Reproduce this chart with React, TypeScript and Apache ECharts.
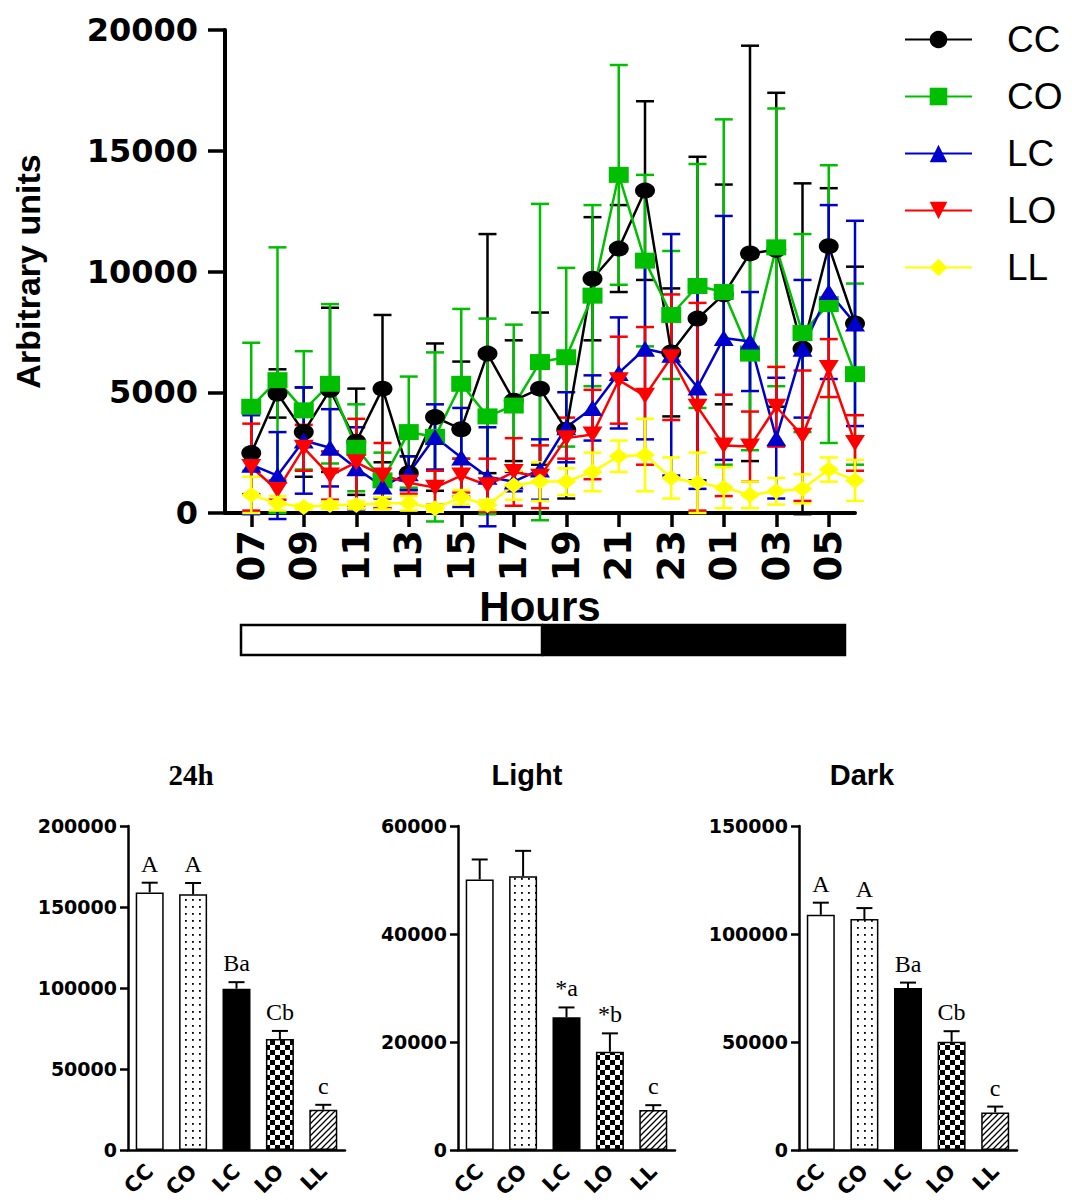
import React, { useEffect, useRef } from "react";
import * as echarts from "echarts";

// ---------- Top chart data ----------
const hours = [7, 8, 9, 10, 11, 12, 13, 14, 15, 16, 17, 18, 19, 20, 21, 22, 23, 24, 25, 26, 27, 28, 29, 30];
const hourTicks = [7, 9, 11, 13, 15, 17, 19, 21, 23, 25, 27, 29];

const ccMean = [2480, 4950, 3350, 5100, 2950, 5150, 1650, 3970, 3470, 6600, 4650, 5150, 3450, 9700, 10950, 13350, 6650, 8050, 9050, 10750, 10900, 6800, 11050, 7850];
const ccErr = [1700, 1000, 1850, 3400, 2200, 3050, 700, 3050, 2800, 4950, 2500, 3150, 2850, 2550, 1800, 3700, 2650, 6700, 4550, 8600, 6500, 6850, 2400, 2350];

const coMean = [4400, 5500, 4250, 5350, 2700, 1350, 3350, 3150, 5350, 4000, 4450, 6250, 6450, 9000, 14000, 10450, 8200, 9400, 9150, 6600, 11000, 7450, 8650, 5750];
const coErr = [2650, 5500, 2450, 3300, 1800, 1150, 2300, 3500, 3100, 4050, 3350, 6550, 3700, 3750, 4550, 3550, 2650, 5050, 7150, 4000, 5750, 4100, 5750, 3750];

const lcMean = [2000, 1550, 3000, 2700, 1850, 1100, 1650, 3150, 2300, 1500, 1300, 1800, 3550, 4350, 5800, 6800, 6550, 5200, 7250, 7100, 3100, 6800, 9150, 7850];
const lcErr = [2050, 1800, 2200, 1600, 1700, 500, 700, 1350, 2050, 2050, 400, 1250, 1450, 1350, 2300, 3750, 5000, 4200, 5050, 2050, 2500, 2850, 3600, 4250];

const loMean = [1900, 950, 2700, 1550, 2100, 1550, 1250, 1050, 1550, 1150, 1700, 1500, 3100, 3250, 5500, 4850, 6450, 4400, 2800, 2750, 4400, 3200, 6000, 2900];
const loErr = [1800, 400, 950, 1000, 1800, 1350, 450, 700, 700, 1100, 1400, 1300, 850, 1850, 1800, 2850, 2600, 4300, 2100, 1450, 1650, 2700, 1200, 1150];

const llMean = [750, 400, 250, 330, 330, 400, 400, 200, 650, 330, 1150, 1300, 1300, 1700, 2350, 2400, 1450, 1250, 1050, 750, 900, 1000, 1800, 1350];
const llErr = [750, 300, 100, 150, 150, 250, 300, 150, 300, 200, 600, 800, 550, 800, 650, 1500, 850, 1250, 850, 550, 550, 600, 500, 850];

// ---------- Bar charts data ----------
const groups = ["CC", "CO", "LC", "LO", "LL"];
const total24 = [159000, 157800, 99600, 68500, 24900];
const total24Err = [6000, 7000, 4000, 5000, 3000];
const total24Letters = ["A", "A", "Ba", "Cb", "c"];
const lightVals = [50100, 50700, 24600, 18200, 7400];
const lightErr = [3700, 4700, 1800, 3400, 900];
const lightLetters = ["", "", "*a", "*b", "c"];
const darkVals = [108900, 106900, 75000, 50100, 17400];
const darkErr = [5600, 5100, 2500, 4900, 2700];
const darkLetters = ["A", "A", "Ba", "Cb", "c"];

const COLORS = { CC: "#000000", CO: "#00BF00", LC: "#0000CC", LO: "#FF0000", LL: "#FFFF00" };

function makePattern(kind: string): any {
  const c = document.createElement("canvas");
  const ctx = c.getContext("2d") as CanvasRenderingContext2D;
  if (kind === "dots") {
    c.width = 7; c.height = 7;
    ctx.fillStyle = "#fff"; ctx.fillRect(0, 0, 7, 7);
    ctx.fillStyle = "#000";
    ctx.fillRect(3, 3, 1.8, 1.8);
  } else if (kind === "checker") {
    c.width = 10; c.height = 10;
    ctx.fillStyle = "#fff"; ctx.fillRect(0, 0, 10, 10);
    ctx.fillStyle = "#000";
    ctx.fillRect(0, 0, 5, 5); ctx.fillRect(5, 5, 5, 5);
  } else if (kind === "hatch") {
    c.width = 6; c.height = 6;
    ctx.fillStyle = "#fff"; ctx.fillRect(0, 0, 6, 6);
    ctx.strokeStyle = "#000"; ctx.lineWidth = 1.3;
    ctx.beginPath();
    ctx.moveTo(-1, 7); ctx.lineTo(7, -1);
    ctx.moveTo(-4, 4); ctx.lineTo(4, -4);
    ctx.moveTo(2, 10); ctx.lineTo(10, 2);
    ctx.stroke();
  }
  return { image: c, repeat: "repeat" };
}

const plain = (v: number) => String(v);

export default function App() {
  const ref = useRef<HTMLDivElement>(null);

  useEffect(() => {
    if (!ref.current) return;
    const chart = echarts.init(ref.current, null, { renderer: "svg" });

    const fills = ["#ffffff", makePattern("dots"), "#000000", makePattern("checker"), makePattern("hatch")];

    const groupsTop = [
      { name: "CC", mean: ccMean, err: ccErr, symbol: "circle", rot: 0 },
      { name: "CO", mean: coMean, err: coErr, symbol: "rect", rot: 0 },
      { name: "LC", mean: lcMean, err: lcErr, symbol: "triangle", rot: 0 },
      { name: "LO", mean: loMean, err: loErr, symbol: "triangle", rot: 180 },
      { name: "LL", mean: llMean, err: llErr, symbol: "diamond", rot: 0 },
    ];

    const topSeries: any[] = [];
    groupsTop.forEach((g) => {
      const color = (COLORS as any)[g.name];
      topSeries.push({
        type: "custom",
        name: g.name + " err",
        xAxisIndex: 0,
        yAxisIndex: 0,
        data: hours.map((h, i) => [h, g.mean[i], g.err[i]]),
        encode: { x: 0, y: 1 },
        renderItem: (params: any, api: any) => {
          const x = api.value(0), m = api.value(1), e = api.value(2);
          const p0 = api.coord([x, m - e]);
          const p1 = api.coord([x, m + e]);
          const hw = 9;
          const st = { stroke: color, lineWidth: 2.5 };
          return {
            type: "group",
            children: [
              { type: "line", shape: { x1: p0[0], y1: p0[1], x2: p1[0], y2: p1[1] }, style: st },
              { type: "line", shape: { x1: p0[0] - hw, y1: p0[1], x2: p0[0] + hw, y2: p0[1] }, style: st },
              { type: "line", shape: { x1: p1[0] - hw, y1: p1[1], x2: p1[0] + hw, y2: p1[1] }, style: st },
            ],
          };
        },
      });
      topSeries.push({
        type: "line",
        name: g.name,
        xAxisIndex: 0,
        yAxisIndex: 0,
        data: hours.map((h, i) => [h, g.mean[i]]),
        symbol: g.symbol,
        symbolSize: [20, 16],
        symbolRotate: g.rot,
        showAllSymbol: true,
        lineStyle: { color, width: 2.5 },
        itemStyle: { color, opacity: 1 },
      });
    });

    const barDefs = [
      { vals: total24, err: total24Err, letters: total24Letters, max: 200000, interval: 50000 },
      { vals: lightVals, err: lightErr, letters: lightLetters, max: 60000, interval: 20000 },
      { vals: darkVals, err: darkErr, letters: darkLetters, max: 150000, interval: 50000 },
    ];
    const barGrids = [
      { left: 128, top: 826, width: 217, height: 324 },
      { left: 458, top: 826, width: 217, height: 324 },
      { left: 799, top: 826, width: 218, height: 324 },
    ];

    const barSeries: any[] = [];
    const barX: any[] = [];
    const barY: any[] = [];
    barDefs.forEach((d, k) => {
      const ai = k + 1;
      barX.push({
        type: "category",
        gridIndex: ai,
        data: groups,
        axisLine: { lineStyle: { color: "#000", width: 2.5 } },
        axisTick: { alignWithLabel: true, length: 8, lineStyle: { width: 2.5, color: "#000" } },
        axisLabel: { rotate: 45, margin: 18, fontFamily: "DejaVu Sans", fontWeight: "bold", fontSize: 21, color: "#000" },
      });
      barY.push({
        type: "value",
        gridIndex: ai,
        min: 0,
        max: d.max,
        interval: d.interval,
        splitLine: { show: false },
        axisLine: { show: true, lineStyle: { color: "#000", width: 2.5 } },
        axisTick: { show: true, length: 8, lineStyle: { width: 2.5, color: "#000" } },
        axisLabel: { margin: 11, fontFamily: "DejaVu Sans", fontWeight: "bold", fontSize: 19, color: "#000", formatter: plain },
      });
      barSeries.push({
        type: "bar",
        xAxisIndex: ai,
        yAxisIndex: ai,
        barWidth: 28,
        data: d.vals.map((v, i) => ({ value: v, itemStyle: { color: fills[i] } })),
        itemStyle: { borderColor: "#000", borderWidth: 1.5 },
      });
      barSeries.push({
        type: "custom",
        xAxisIndex: ai,
        yAxisIndex: ai,
        data: d.vals.map((v, i) => [i, v, d.err[i]]),
        encode: { x: 0, y: 1 },
        z: 5,
        renderItem: (params: any, api: any) => {
          const i = params.dataIndex;
          const v = api.value(1), e = api.value(2);
          const p0 = api.coord([i, v]);
          const p1 = api.coord([i, v + e]);
          const st = { stroke: "#000", lineWidth: 2 };
          return {
            type: "group",
            children: [
              { type: "line", shape: { x1: p0[0], y1: p0[1], x2: p1[0], y2: p1[1] }, style: st },
              { type: "line", shape: { x1: p1[0] - 8, y1: p1[1], x2: p1[0] + 8, y2: p1[1] }, style: st },
              {
                type: "text",
                x: p0[0],
                y: p1[1] - 7,
                style: {
                  text: d.letters[i],
                  align: "center",
                  verticalAlign: "bottom",
                  fontFamily: "Liberation Serif",
                  fontSize: 24,
                  fill: "#000",
                },
              },
            ],
          };
        },
      });
    });

    const option: any = {
      animation: false,
      backgroundColor: "#ffffff",
      legend: {
        data: ["CC", "CO", "LC", "LO", "LL"],
        orient: "vertical",
        left: 899,
        top: 16,
        itemWidth: 67,
        itemHeight: 22,
        itemGap: 20,
        selectedMode: false,
        textStyle: { fontSize: 37, fontFamily: "Liberation Sans", color: "#000", padding: [0, 0, 0, 30] },
      },
      grid: [
        { left: 225, top: 30, width: 630, height: 483 },
        ...barGrids,
      ],
      xAxis: [
        {
          type: "value",
          gridIndex: 0,
          min: 6,
          max: 30,
          splitLine: { show: false },
          axisLine: { lineStyle: { color: "#000", width: 4 } },
          axisTick: { show: true, customValues: hourTicks, length: 14, lineStyle: { width: 3.5, color: "#000" } },
          axisLabel: {
            customValues: hourTicks,
            rotate: 90,
            margin: 17,
            fontFamily: "DejaVu Sans",
            fontWeight: "bold",
            fontSize: 37,
            color: "#000",
            formatter: (v: number) => String(v % 24).padStart(2, "0"),
          },
          name: "Hours",
          nameLocation: "middle",
          nameGap: 59,
          nameTextStyle: { fontFamily: "Liberation Sans", fontWeight: "bold", fontSize: 42, color: "#000" },
        },
        ...barX,
      ],
      yAxis: [
        {
          type: "value",
          gridIndex: 0,
          min: 0,
          max: 20000,
          interval: 5000,
          splitLine: { show: false },
          axisLine: { show: true, lineStyle: { color: "#000", width: 4 } },
          axisTick: { show: true, length: 17, lineStyle: { width: 3.5, color: "#000" } },
          axisLabel: { margin: 27, fontFamily: "DejaVu Sans", fontWeight: "bold", fontSize: 32, color: "#000", formatter: plain },
          name: "Arbitrary units",
          nameLocation: "middle",
          nameGap: 180,
          nameTextStyle: { fontFamily: "Liberation Sans", fontWeight: "bold", fontSize: 34, color: "#000" },
        },
        ...barY,
      ],
      graphic: [
        { type: "rect", shape: { x: 241, y: 625, width: 301, height: 30 }, style: { fill: "#fff", stroke: "#000", lineWidth: 2.5 } },
        { type: "rect", shape: { x: 543, y: 625, width: 302, height: 30 }, style: { fill: "#000", stroke: "#000", lineWidth: 2.5 } },
        { type: "text", x: 191, y: 775, style: { text: "24h", align: "center", verticalAlign: "middle", fontFamily: "Liberation Serif", fontWeight: "bold", fontSize: 29, fill: "#000" } },
        { type: "text", x: 527, y: 775, style: { text: "Light", align: "center", verticalAlign: "middle", fontFamily: "Liberation Sans", fontWeight: "bold", fontSize: 29, fill: "#000" } },
        { type: "text", x: 862, y: 775, style: { text: "Dark", align: "center", verticalAlign: "middle", fontFamily: "Liberation Sans", fontWeight: "bold", fontSize: 29, fill: "#000" } },
      ],
      series: [...topSeries, ...barSeries],
    };

    chart.setOption(option);
    return () => chart.dispose();
  }, []);

  return (
    <div
      ref={ref}
      style={{ position: "absolute", left: 0, top: 0, width: 1072, height: 1204, background: "#fff" }}
    />
  );
}
